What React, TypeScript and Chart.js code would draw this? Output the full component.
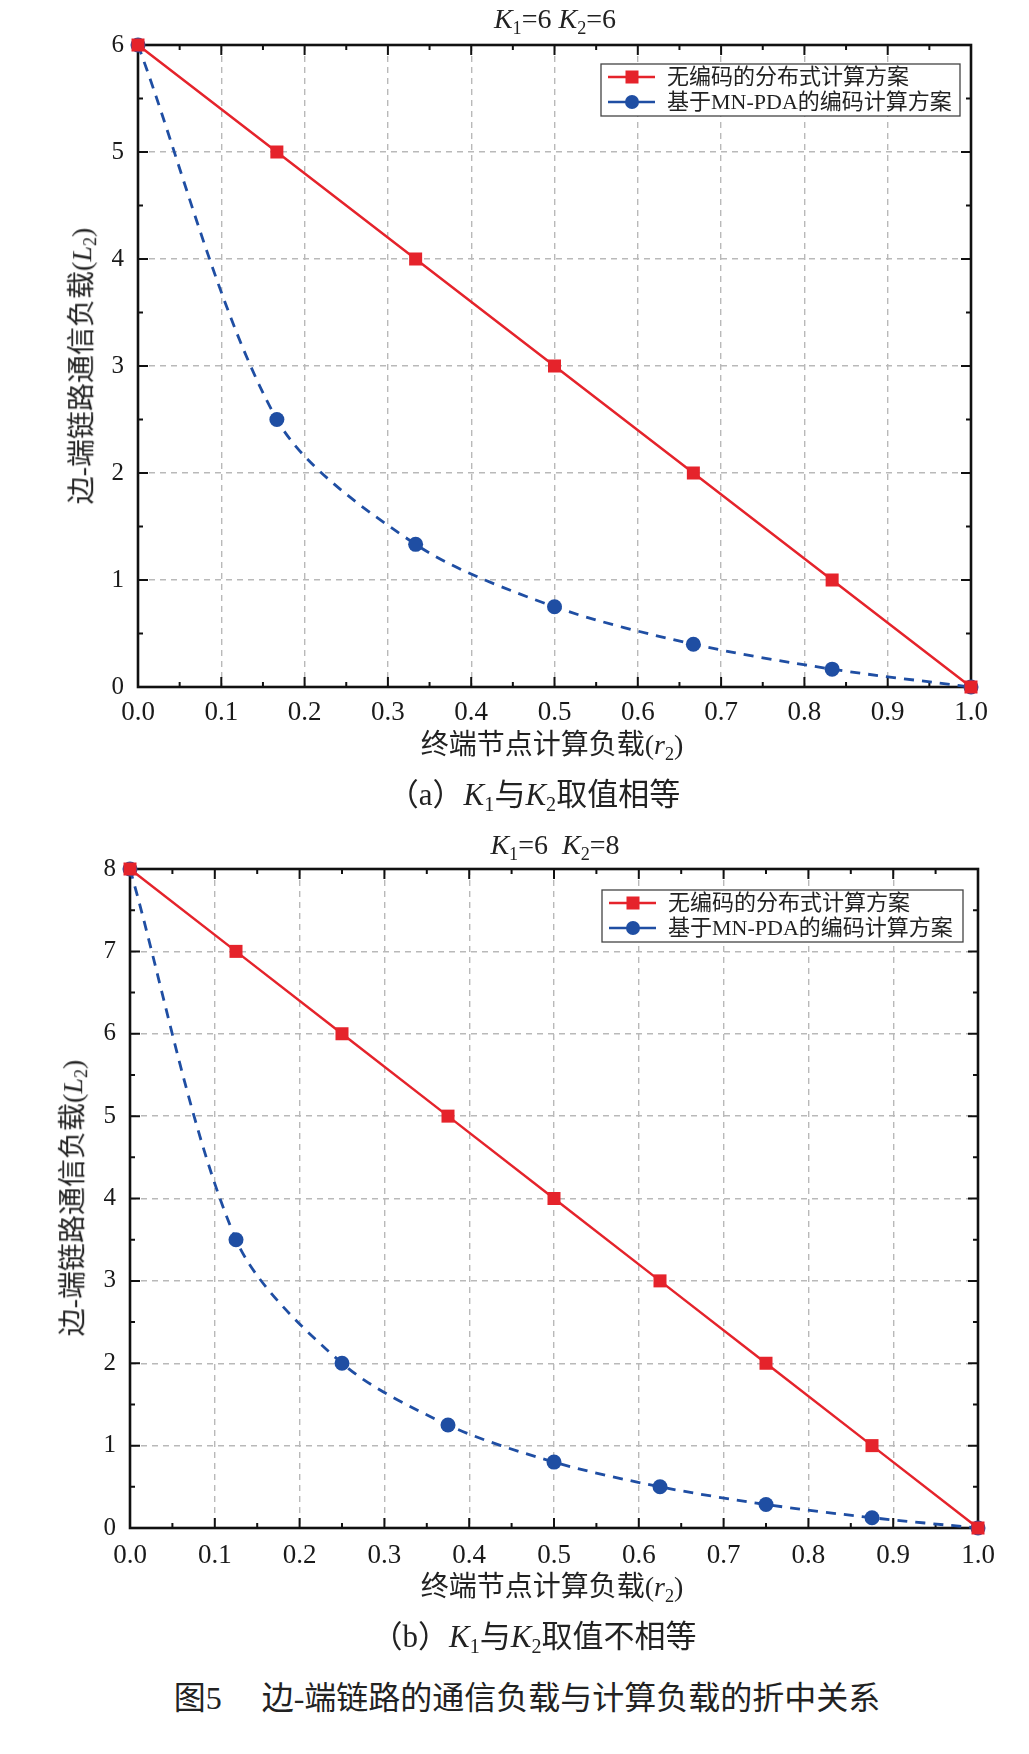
import React, { useEffect, useRef } from "react";
import { Chart, registerables } from "chart.js";

Chart.register(...registerables);

// ---- data -------------------------------------------------------------
// (a) K1 = K2 = 6
const rA = [0, 0.1667, 0.3333, 0.5, 0.6667, 0.8333, 1.0];
const uncodedA = [6, 5, 4, 3, 2, 1, 0];
const codedA = [6, 2.5, 1.333, 0.75, 0.4, 0.1667, 0];
const yMajorA = [0, 1, 2, 3, 4, 5, 6];
const yMinorA = [0.5, 1.5, 2.5, 3.5, 4.5, 5.5];

// (b) K1 = 6, K2 = 8
const rB = [0, 0.125, 0.25, 0.375, 0.5, 0.625, 0.75, 0.875, 1.0];
const uncodedB = [8, 7, 6, 5, 4, 3, 2, 1, 0];
const codedB = [8, 3.5, 2, 1.25, 0.8, 0.5, 0.2857, 0.125, 0];
const yMajorB = [0, 1, 2, 3, 4, 5, 6, 7, 8];
const yMinorB = [0.5, 1.5, 2.5, 3.5, 4.5, 5.5, 6.5, 7.5];

const xMajor = [0, 0.1, 0.2, 0.3, 0.4, 0.5, 0.6, 0.7, 0.8, 0.9, 1.0];
const xMinor = [0.05, 0.15, 0.25, 0.35, 0.45, 0.55, 0.65, 0.75, 0.85, 0.95];

const seriesNames = ["无编码的分布式计算方案", "基于MN-PDA的编码计算方案"];

const RED = "#e5232b";
const BLUE = "#1f4ea3";
const FONT = "'Liberation Serif', 'Noto Sans CJK SC', serif";

// ---- plugins ----------------------------------------------------------
// Closed frame with inward major/minor ticks on all four sides.
const frameTicks = {
  id: "frameTicks",
  beforeDatasetsDraw(chart: any, _args: any, opts: any) {
    const { ctx, chartArea: a, scales } = chart;
    const sx = scales.x;
    const sy = scales.y;
    const major = 10;
    const minor = 5;
    ctx.save();
    ctx.strokeStyle = "#111";
    ctx.lineWidth = 2;
    ctx.setLineDash([]);
    ctx.beginPath();
    const vTick = (v: number, len: number) => {
      const px = sx.getPixelForValue(v);
      ctx.moveTo(px, a.bottom);
      ctx.lineTo(px, a.bottom - len);
      ctx.moveTo(px, a.top);
      ctx.lineTo(px, a.top + len);
    };
    const hTick = (v: number, len: number) => {
      const py = sy.getPixelForValue(v);
      ctx.moveTo(a.left, py);
      ctx.lineTo(a.left + len, py);
      ctx.moveTo(a.right, py);
      ctx.lineTo(a.right - len, py);
    };
    opts.xMajor.forEach((v: number) => vTick(v, major));
    opts.xMinor.forEach((v: number) => vTick(v, minor));
    opts.yMajor.forEach((v: number) => hTick(v, major));
    opts.yMinor.forEach((v: number) => hTick(v, minor));
    ctx.stroke();
    ctx.lineWidth = 2.6;
    ctx.strokeRect(a.left, a.top, a.right - a.left, a.bottom - a.top);
    ctx.restore();
  },
};

// Boxed legend placed inside the plot, top-right.
const boxLegend = {
  id: "boxLegend",
  afterDatasetsDraw(chart: any, _args: any, opts: any) {
    const { ctx, chartArea: a } = chart;
    const w = opts.width;
    const h = opts.height;
    const bx = a.right - opts.right - w;
    const by = a.top + opts.top;
    ctx.save();
    ctx.fillStyle = "#fff";
    ctx.fillRect(bx, by, w, h);
    ctx.strokeStyle = "#444";
    ctx.lineWidth = 1.3;
    ctx.setLineDash([]);
    ctx.strokeRect(bx, by, w, h);
    chart.data.datasets.forEach((ds: any, i: number) => {
      const cy = by + 13 + i * 25;
      ctx.strokeStyle = ds.borderColor;
      ctx.lineWidth = 2.5;
      ctx.beginPath();
      ctx.moveTo(bx + 7, cy);
      ctx.lineTo(bx + 54, cy);
      ctx.stroke();
      ctx.fillStyle = ds.backgroundColor;
      const mx = bx + 31;
      if (ds.pointStyle === "rect") {
        ctx.fillRect(mx - 6.5, cy - 6.5, 13, 13);
      } else {
        ctx.beginPath();
        ctx.arc(mx, cy, 7, 0, Math.PI * 2);
        ctx.fill();
      }
      ctx.fillStyle = "#222";
      ctx.font = `22px ${FONT}`;
      ctx.textAlign = "left";
      ctx.textBaseline = "middle";
      ctx.fillText(ds.label, bx + 66, cy + 1);
    });
    ctx.restore();
  },
};

// ---- chart panel ------------------------------------------------------
type PanelProps = {
  top: number;
  height: number;
  axisWidth: number;
  padRight: number;
  padTop: number;
  xAxisHeight: number;
  xPad: number;
  r: number[];
  uncoded: number[];
  coded: number[];
  yMajor: number[];
  yMinor: number[];
  legendW: number;
  legendRight: number;
  legendTop: number;
};

function Panel(p: PanelProps) {
  const ref = useRef<HTMLCanvasElement | null>(null);

  useEffect(() => {
    if (!ref.current) return;
    const yMax = p.yMajor[p.yMajor.length - 1];
    const chart = new Chart(ref.current, {
      type: "line",
      data: {
        datasets: [
          {
            label: seriesNames[0],
            data: p.r.map((x, i) => ({ x, y: p.uncoded[i] })),
            borderColor: RED,
            backgroundColor: RED,
            borderWidth: 2.5,
            pointStyle: "rect",
            pointRadius: 9.2,
            pointHoverRadius: 9.2,
            pointBorderWidth: 0,
            tension: 0,
            clip: false,
          },
          {
            label: seriesNames[1],
            data: p.r.map((x, i) => ({ x, y: p.coded[i] })),
            borderColor: BLUE,
            backgroundColor: BLUE,
            borderWidth: 2.8,
            borderDash: [10, 8],
            pointStyle: "circle",
            pointRadius: 7.5,
            pointHoverRadius: 7.5,
            pointBorderWidth: 0,
            tension: 0.3,
            clip: false,
          },
        ],
      },
      options: {
        responsive: false,
        animation: false,
        events: [],
        layout: { padding: { left: 0, right: p.padRight, top: p.padTop, bottom: 0 } },
        plugins: {
          legend: { display: false },
          tooltip: { enabled: false },
          frameTicks: { xMajor, xMinor, yMajor: p.yMajor, yMinor: p.yMinor },
          boxLegend: { width: p.legendW, height: 52, right: p.legendRight, top: p.legendTop },
        } as any,
        scales: {
          x: {
            type: "linear",
            min: 0,
            max: 1,
            afterBuildTicks: (s: any) => {
              s.ticks = xMajor.map((v) => ({ value: v }));
            },
            afterFit: (s: any) => {
              s.height = p.xAxisHeight;
            },
            grid: { color: "#b9b9b9", lineWidth: 1.4, drawTicks: false },
            border: { display: false, dash: [6, 5] },
            ticks: {
              padding: p.xPad,
              maxRotation: 0,
              autoSkip: false,
              color: "#1a1a1a",
              font: { family: FONT, size: 27 },
              callback: (v: any) => Number(v).toFixed(1),
            },
          },
          y: {
            type: "linear",
            min: 0,
            max: yMax,
            afterBuildTicks: (s: any) => {
              s.ticks = p.yMajor.map((v) => ({ value: v }));
            },
            afterFit: (s: any) => {
              s.width = p.axisWidth;
            },
            grid: { color: "#b9b9b9", lineWidth: 1.4, drawTicks: false },
            border: { display: false, dash: [6, 5] },
            ticks: {
              padding: 14,
              autoSkip: false,
              color: "#1a1a1a",
              font: { family: FONT, size: 25 },
              callback: (v: any) => String(v),
            },
          },
        },
      },
      plugins: [frameTicks, boxLegend],
    } as any);
    return () => chart.destroy();
  }, []);

  return (
    <canvas
      ref={ref}
      width={1029}
      height={p.height}
      style={{ position: "absolute", left: 0, top: p.top, width: 1029, height: p.height }}
    />
  );
}

// ---- text helpers -----------------------------------------------------
const textBase: React.CSSProperties = {
  position: "absolute",
  whiteSpace: "nowrap",
  fontFamily: FONT,
  color: "#222",
  lineHeight: 1,
};

function Centered(props: { x: number; y: number; size: number; rotate?: boolean; children: React.ReactNode }) {
  return (
    <div
      style={{
        ...textBase,
        left: props.x,
        top: props.y,
        fontSize: props.size,
        transform: `translate(-50%, -50%)${props.rotate ? " rotate(-90deg)" : ""}`,
      }}
    >
      {props.children}
    </div>
  );
}

const subStyle: React.CSSProperties = { fontSize: "0.65em", verticalAlign: "-0.3em" };
const Sub = (p: { children: React.ReactNode }) => <span style={subStyle}>{p.children}</span>;
const K = (p: { n: string }) => (
  <span>
    <i>K</i>
    <Sub>{p.n}</Sub>
  </span>
);

const YTitle = () => (
  <span>
    边-端链路通信负载(<i>L</i>
    <Sub>2</Sub>)
  </span>
);
const XTitle = () => (
  <span>
    终端节点计算负载(<i>r</i>
    <Sub>2</Sub>)
  </span>
);

export default function App() {
  return (
    <div style={{ position: "absolute", left: 0, top: 0, width: 1029, height: 1754, background: "#fff" }}>
      <Panel
        top={0}
        height={770}
        axisWidth={138}
        padRight={58}
        padTop={45}
        xAxisHeight={83}
        xPad={10}
        r={rA}
        uncoded={uncodedA}
        coded={codedA}
        yMajor={yMajorA}
        yMinor={yMinorA}
        legendW={359}
        legendRight={11}
        legendTop={19}
      />
      <Panel
        top={820}
        height={780}
        axisWidth={130}
        padRight={51}
        padTop={49}
        xAxisHeight={72}
        xPad={12}
        r={rB}
        uncoded={uncodedB}
        coded={codedB}
        yMajor={yMajorB}
        yMinor={yMinorB}
        legendW={361}
        legendRight={15}
        legendTop={21}
      />

      <Centered x={555} y={21} size={28}>
        <K n="1" />=6 <K n="2" />=6
      </Centered>
      <Centered x={84} y={366} size={28} rotate>
        <YTitle />
      </Centered>
      <Centered x={552} y={747} size={28}>
        <XTitle />
      </Centered>
      <Centered x={534} y={797} size={31}>
        （a）<K n="1" />与<K n="2" />取值相等
      </Centered>

      <Centered x={555} y={847} size={28}>
        <K n="1" />=6&nbsp;&nbsp;<K n="2" />=8
      </Centered>
      <Centered x={75} y={1198} size={28} rotate>
        <YTitle />
      </Centered>
      <Centered x={552} y={1589} size={28}>
        <XTitle />
      </Centered>
      <Centered x={534} y={1639} size={31}>
        （b）<K n="1" />与<K n="2" />取值不相等
      </Centered>

      <Centered x={527} y={1698} size={32}>
        图5　 边-端链路的通信负载与计算负载的折中关系
      </Centered>
    </div>
  );
}
